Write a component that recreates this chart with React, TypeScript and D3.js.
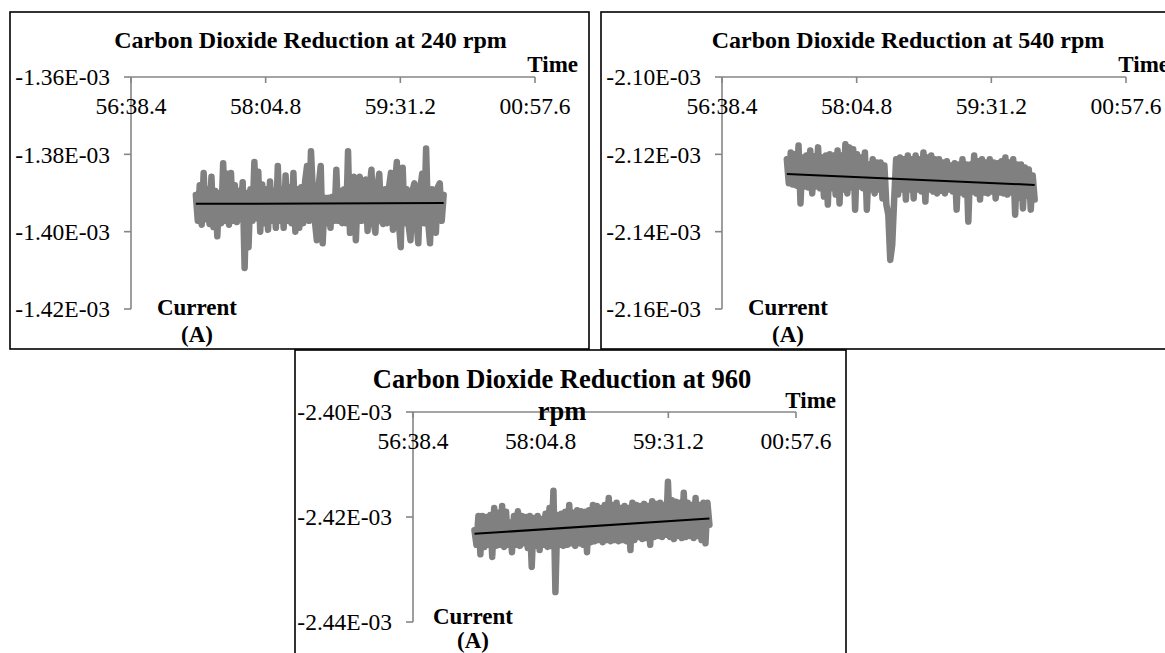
import React, { useEffect } from "react";
import * as d3 from "d3";

// ---------- data ----------
const xTickLabels = ["56:38.4", "58:04.8", "59:31.2", "00:57.6"];
const xTickSeconds = [3398.4, 3484.8, 3571.2, 3657.6];
const sampleStart = 3440;
const sampleEnd = 3599;

const titles240 = ["Carbon Dioxide Reduction at 240 rpm"];
const titles540 = ["Carbon Dioxide Reduction at 540 rpm"];
const titles960 = ["Carbon Dioxide Reduction at 960", "rpm"];

const yTicks240 = [-1.36, -1.38, -1.4, -1.42];
const yTicks540 = [-2.1, -2.12, -2.14, -2.16];
const yTicks960 = [-2.4, -2.42, -2.44];

// current in units of 1E-03 A
const current240 = [
  -1.3905, -1.3972, -1.388, -1.3982, -1.3848, -1.3968, -1.389, -1.398, -1.3858, -1.3988,
  -1.3895, -1.4012, -1.39, -1.3978, -1.3823, -1.3972, -1.385, -1.3982, -1.3848, -1.3972,
  -1.388, -1.3975, -1.3895, -1.3968, -1.3872, -1.4094, -1.39, -1.404, -1.389, -1.3972,
  -1.382, -1.3965, -1.3845, -1.4, -1.3878, -1.3978, -1.389, -1.3995, -1.387, -1.3972,
  -1.3895, -1.399, -1.383, -1.3972, -1.389, -1.399, -1.3855, -1.3972, -1.3885, -1.3978,
  -1.3848, -1.4, -1.389, -1.399, -1.3885, -1.3978, -1.387, -1.383, -1.3972, -1.3792,
  -1.39, -1.3972, -1.4022, -1.388, -1.383, -1.403, -1.3912, -1.3978, -1.3912, -1.399,
  -1.391, -1.3972, -1.384, -1.3972, -1.3895, -1.3978, -1.389, -1.3978, -1.3792, -1.4003,
  -1.3885, -1.3858, -1.4022, -1.3895, -1.3858, -1.3972, -1.389, -1.3865, -1.3998, -1.389,
  -1.384, -1.3972, -1.4003, -1.3885, -1.385, -1.3972, -1.398, -1.389, -1.3978, -1.3885,
  -1.3848, -1.3995, -1.388, -1.382, -1.3972, -1.404, -1.3835, -1.3978, -1.389, -1.3982,
  -1.4022, -1.3895, -1.3875, -1.3972, -1.403, -1.389, -1.385, -1.3978, -1.3785, -1.3972,
  -1.403, -1.389, -1.3978, -1.4003, -1.3885, -1.3875, -1.3972, -1.3905,
];

const current540 = [
  -2.1213, -2.1275, -2.1195, -2.1278, -2.12, -2.1281, -2.1177, -2.1327, -2.1208, -2.1283,
  -2.1203, -2.1286, -2.119, -2.1301, -2.1205, -2.1283, -2.1182, -2.1288, -2.1208, -2.1309,
  -2.1203, -2.133, -2.12, -2.1288, -2.1203, -2.1304, -2.119, -2.1327, -2.1203, -2.1291,
  -2.1174, -2.1301, -2.1182, -2.1286, -2.1187, -2.1343, -2.12, -2.1283, -2.1208, -2.1288,
  -2.1195, -2.1343, -2.1226, -2.1291, -2.1213, -2.1301, -2.1221, -2.1291, -2.1221, -2.1314,
  -2.1229, -2.133, -2.1356, -2.1473, -2.1434, -2.1317, -2.1213, -2.1304, -2.1208, -2.1291,
  -2.1213, -2.1317, -2.1203, -2.1291, -2.1213, -2.1314, -2.1203, -2.1291, -2.1213, -2.1296,
  -2.1195, -2.1322, -2.1208, -2.1291, -2.1203, -2.1296, -2.1213, -2.1301, -2.1213, -2.1294,
  -2.1221, -2.1301, -2.1218, -2.1291, -2.1229, -2.1296, -2.1223, -2.1343, -2.1226, -2.1299,
  -2.1213, -2.1304, -2.1226, -2.1374, -2.1226, -2.1296, -2.1203, -2.1301, -2.1218, -2.1317,
  -2.1213, -2.1299, -2.1221, -2.1301, -2.1213, -2.1296, -2.1221, -2.1314, -2.1223, -2.1299,
  -2.1218, -2.1301, -2.1208, -2.1304, -2.1221, -2.1299, -2.1213, -2.1356, -2.1226, -2.1312,
  -2.1226, -2.134, -2.1234, -2.1307, -2.1239, -2.1343, -2.1255, -2.1317,
];

const current960 = [
  -2.4225, -2.4253, -2.4198, -2.4271, -2.4198, -2.4257, -2.42, -2.4253, -2.4196, -2.4276,
  -2.4183, -2.4255, -2.4192, -2.4253, -2.4179, -2.4257, -2.419, -2.4253, -2.4211, -2.4267,
  -2.4198, -2.4253, -2.4189, -2.4255, -2.4198, -2.425, -2.42, -2.4259, -2.4198, -2.4295,
  -2.4202, -2.4255, -2.4198, -2.4263, -2.4204, -2.4253, -2.4194, -2.4257, -2.4183, -2.4255,
  -2.415, -2.4343, -2.4196, -2.4253, -2.4194, -2.4255, -2.419, -2.4253, -2.4177, -2.425,
  -2.4192, -2.4255, -2.4187, -2.425, -2.4189, -2.4253, -2.419, -2.4267, -2.4187, -2.4248,
  -2.4177, -2.4246, -2.4179, -2.4244, -2.4183, -2.4248, -2.4177, -2.4244, -2.4164, -2.4246,
  -2.4177, -2.4244, -2.4173, -2.4246, -2.4183, -2.4244, -2.4179, -2.4246, -2.4183, -2.4263,
  -2.4173, -2.4244, -2.4177, -2.4238, -2.4179, -2.4242, -2.4175, -2.424, -2.4179, -2.4253,
  -2.417, -2.4238, -2.4175, -2.4236, -2.4173, -2.4238, -2.4177, -2.4234, -2.4133, -2.4238,
  -2.4168, -2.4242, -2.4171, -2.4236, -2.4173, -2.424, -2.4154, -2.4238, -2.4173, -2.4236,
  -2.4177, -2.424, -2.4164, -2.4236, -2.4177, -2.4244, -2.4173, -2.425, -2.4173, -2.4215,
];

// linear trend line end values (start, end)
const trend240 = [-1.3928, -1.3926];
const trend540 = [-2.1251, -2.1279];
const trend960 = [-2.4232, -2.4203];

// ---------- layout ----------
const FONT = "'Liberation Serif', 'Times New Roman', Times, serif";
const AXIS = "#868686";

type Layout = {
  box: [number, number, number, number];
  xr: [number, number];
  yr: [number, number];
  titleX: number;
  titleYs: number[];
  titleSize: number;
  timeX: number;
  timeY: number;
  curX: number;
  curY: number;
  aGap: number;
};

const panels: {
  titles: string[];
  yTicks: number[];
  values: number[];
  trend: number[];
  layout: Layout;
}[] = [
  {
    titles: titles240,
    yTicks: yTicks240,
    values: current240,
    trend: trend240,
    layout: { box: [10, 12, 579, 337], xr: [131, 535], yr: [77, 309], titleX: 310.5, titleYs: [48], titleSize: 24, timeX: 578, timeY: 72, curX: 197, curY: 315, aGap: 27 },
  },
  {
    titles: titles540,
    yTicks: yTicks540,
    values: current540,
    trend: trend540,
    layout: { box: [601, 12, 600, 337], xr: [722, 1126], yr: [77, 309], titleX: 908, titleYs: [48], titleSize: 24, timeX: 1169, timeY: 72, curX: 788, curY: 315, aGap: 27 },
  },
  {
    titles: titles960,
    yTicks: yTicks960,
    values: current960,
    trend: trend960,
    layout: { box: [295, 350, 551, 330], xr: [413, 796], yr: [412, 622], titleX: 562, titleYs: [388, 420], titleSize: 26.5, timeX: 836, timeY: 408, curX: 473, curY: 624, aGap: 24 },
  },
];

function Panel({ p }: { p: (typeof panels)[number] }) {
  const L = p.layout;
  const x = d3.scaleLinear().domain([xTickSeconds[0], xTickSeconds[xTickSeconds.length - 1]]).range(L.xr);
  const y = d3
    .scaleLinear()
    .domain([p.yTicks[0], p.yTicks[p.yTicks.length - 1]])
    .range(L.yr);
  const n = p.values.length;
  const times = d3.range(n).map((i) => sampleStart + (i * (sampleEnd - sampleStart)) / (n - 1));
  const line = d3
    .line<number>()
    .x((_, i) => x(times[i]))
    .y((d) => y(d));
  const trendLine = d3.line<number>().x((_, i) => x(i === 0 ? sampleStart : sampleEnd)).y((d) => y(d));
  const axisY = L.yr[0];
  return (
    <g>
      <rect x={L.box[0]} y={L.box[1]} width={L.box[2]} height={L.box[3]} fill="#fff" stroke="#000" strokeWidth={1.6} />
      {/* x axis (top) */}
      <line x1={L.xr[0]} x2={L.xr[1]} y1={axisY} y2={axisY} stroke={AXIS} strokeWidth={1.6} />
      {xTickSeconds.map((t, i) => (
        <line key={"xt" + i} x1={x(t)} x2={x(t)} y1={axisY} y2={axisY + 6} stroke={AXIS} strokeWidth={1.6} />
      ))}
      {/* y axis */}
      <line x1={L.xr[0]} x2={L.xr[0]} y1={L.yr[0]} y2={L.yr[1]} stroke={AXIS} strokeWidth={1.6} />
      {p.yTicks.map((v, i) => (
        <line key={"yt" + i} x1={L.xr[0] - 7} x2={L.xr[0]} y1={y(v)} y2={y(v)} stroke={AXIS} strokeWidth={1.6} />
      ))}
      {/* data */}
      <path d={line(p.values) || ""} fill="none" stroke="#808080" strokeWidth={6.5} strokeLinejoin="round" strokeLinecap="round" />
      <path d={trendLine(p.trend) || ""} fill="none" stroke="#000" strokeWidth={2} />
      {/* tick labels */}
      {p.yTicks.map((v, i) => (
        <text key={"yl" + i} x={L.xr[0] - 21} y={y(v)} dy="0.35em" textAnchor="end" fontFamily={FONT} fontSize={23.5} fill="#000">
          {v.toFixed(2) + "E-03"}
        </text>
      ))}
      {xTickSeconds.map((t, i) => (
        <text key={"xl" + i} x={x(t)} y={axisY + 37} textAnchor="middle" fontFamily={FONT} fontSize={23.5} fill="#000">
          {xTickLabels[i]}
        </text>
      ))}
      {/* titles */}
      {p.titles.map((s, i) => (
        <text key={"ti" + i} x={L.titleX} y={L.titleYs[i]} textAnchor="middle" fontFamily={FONT} fontSize={L.titleSize} fontWeight="bold" fill="#000">
          {s}
        </text>
      ))}
      <text x={L.timeX} y={L.timeY} textAnchor="end" fontFamily={FONT} fontSize={23} fontWeight="bold" fill="#000">
        Time
      </text>
      <text x={L.curX} y={L.curY} textAnchor="middle" fontFamily={FONT} fontSize={23} fontWeight="bold" fill="#000">
        Current
      </text>
      <text x={L.curX} y={L.curY + L.aGap} textAnchor="middle" fontFamily={FONT} fontSize={23} fontWeight="bold" fill="#000">
        (A)
      </text>
    </g>
  );
}

export default function App() {
  useEffect(() => {
    document.body.style.margin = "0";
    document.body.style.overflow = "hidden";
  }, []);
  return (
    <svg width={1165} height={653} style={{ display: "block", background: "#fff" }}>
      <rect x={0} y={0} width={1165} height={653} fill="#fff" />
      {panels.map((p, i) => (
        <Panel key={i} p={p} />
      ))}
    </svg>
  );
}
